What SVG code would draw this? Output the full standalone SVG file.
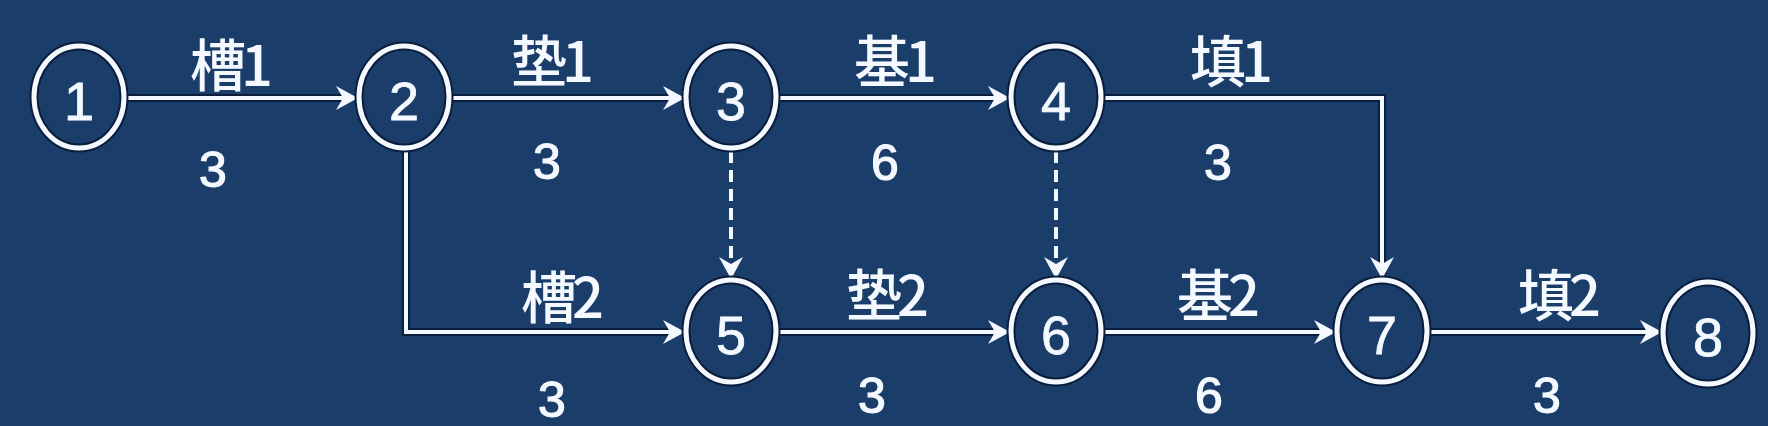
<svg xmlns="http://www.w3.org/2000/svg" width="1768" height="426" viewBox="0 0 1768 426">
<style>
.bg{fill:#1b3d69}
.node ellipse{fill:none;stroke:#0b1d3c;stroke-width:9}
.node ellipse.w{stroke:#f4f8ff;stroke-width:5}
.num{font-family:"Liberation Sans","Noto Sans CJK SC",sans-serif;font-size:54px;fill:#f4f8ff;stroke:#f4f8ff;stroke-width:0.8;text-anchor:middle}
.lbl{font-family:"Noto Sans CJK SC","Noto Sans CJK JP",sans-serif;font-size:56px;font-weight:500;letter-spacing:-5px;fill:#f4f8ff;text-anchor:middle}
.dur{font-family:"Liberation Sans","Noto Sans CJK SC",sans-serif;font-size:50px;fill:#f4f8ff;stroke:#f4f8ff;stroke-width:1.2;text-anchor:middle}
.under{fill:none;stroke:#0b1d3c;stroke-width:8}
.edge{fill:none;stroke:#f4f8ff;stroke-width:4;marker-end:url(#arr)}
.dash{fill:none;stroke:#f4f8ff;stroke-width:4;stroke-dasharray:12 7;marker-end:url(#arr)}
</style>
<defs>
<marker id="arr" markerUnits="userSpaceOnUse" markerWidth="24" markerHeight="28" refX="22" refY="14" orient="auto">
<path d="M0,2 L22,14 L0,26 L7,14 z" fill="#f4f8ff"/>
</marker>
</defs>
<rect class="bg" x="0" y="0" width="1768" height="426"/>
<g id="connectors">
<g class="underlay">
<path class="under" d="M126,98 H352"/>
<path class="under" d="M451,98 H678"/>
<path class="under" d="M777,98 H1003"/>
<path class="under" d="M1102,98 H1382 V274"/>
<path class="under" d="M406,150 V332 H678"/>
<path class="under" d="M777,332 H1003"/>
<path class="under" d="M1102,332 H1329"/>
<path class="under" d="M1428,332 H1655"/>
</g>
<path class="edge" d="M126,98 H358"/>
<path class="edge" d="M451,98 H685"/>
<path class="edge" d="M777,98 H1010"/>
<path class="edge" d="M1102,98 H1382 V279"/>
<path class="edge" d="M406,150 V332 H685"/>
<path class="edge" d="M777,332 H1010"/>
<path class="edge" d="M1102,332 H1336"/>
<path class="edge" d="M1428,332 H1662"/>
<path class="dash" d="M731,151 V279"/>
<path class="dash" d="M1056,151 V279"/>
<text class="lbl" x="229" y="86">槽1</text>
<text class="dur" x="213" y="187">3</text>
<text class="lbl" x="550" y="82">垫1</text>
<text class="dur" x="547" y="179">3</text>
<text class="lbl" x="893" y="82">基1</text>
<text class="dur" x="885" y="180">6</text>
<text class="lbl" x="1229" y="82">填1</text>
<text class="dur" x="1218" y="180">3</text>
<text class="lbl" x="560" y="318">槽2</text>
<text class="dur" x="552" y="417">3</text>
<text class="lbl" x="885" y="316">垫2</text>
<text class="dur" x="872" y="413">3</text>
<text class="lbl" x="1216" y="316">基2</text>
<text class="dur" x="1209" y="413">6</text>
<text class="lbl" x="1557" y="316">填2</text>
<text class="dur" x="1547" y="413">3</text>
</g>
<g id="n1" class="node"><ellipse cx="79" cy="97" rx="45" ry="51"/><ellipse class="w" cx="79" cy="97" rx="45" ry="51"/><text class="num" x="79" y="120">1</text></g>
<g id="n2" class="node"><ellipse cx="404" cy="97" rx="45" ry="51"/><ellipse class="w" cx="404" cy="97" rx="45" ry="51"/><text class="num" x="404" y="120">2</text></g>
<g id="n3" class="node"><ellipse cx="731" cy="97" rx="45" ry="51"/><ellipse class="w" cx="731" cy="97" rx="45" ry="51"/><text class="num" x="731" y="120">3</text></g>
<g id="n4" class="node"><ellipse cx="1056" cy="97" rx="45" ry="51"/><ellipse class="w" cx="1056" cy="97" rx="45" ry="51"/><text class="num" x="1056" y="120">4</text></g>
<g id="n5" class="node"><ellipse cx="731" cy="331" rx="45" ry="51"/><ellipse class="w" cx="731" cy="331" rx="45" ry="51"/><text class="num" x="731" y="354">5</text></g>
<g id="n6" class="node"><ellipse cx="1056" cy="331" rx="45" ry="51"/><ellipse class="w" cx="1056" cy="331" rx="45" ry="51"/><text class="num" x="1056" y="354">6</text></g>
<g id="n7" class="node"><ellipse cx="1382" cy="331" rx="45" ry="51"/><ellipse class="w" cx="1382" cy="331" rx="45" ry="51"/><text class="num" x="1382" y="354">7</text></g>
<g id="n8" class="node"><ellipse cx="1708" cy="333" rx="45" ry="51"/><ellipse class="w" cx="1708" cy="333" rx="45" ry="51"/><text class="num" x="1708" y="356">8</text></g>
</svg>
